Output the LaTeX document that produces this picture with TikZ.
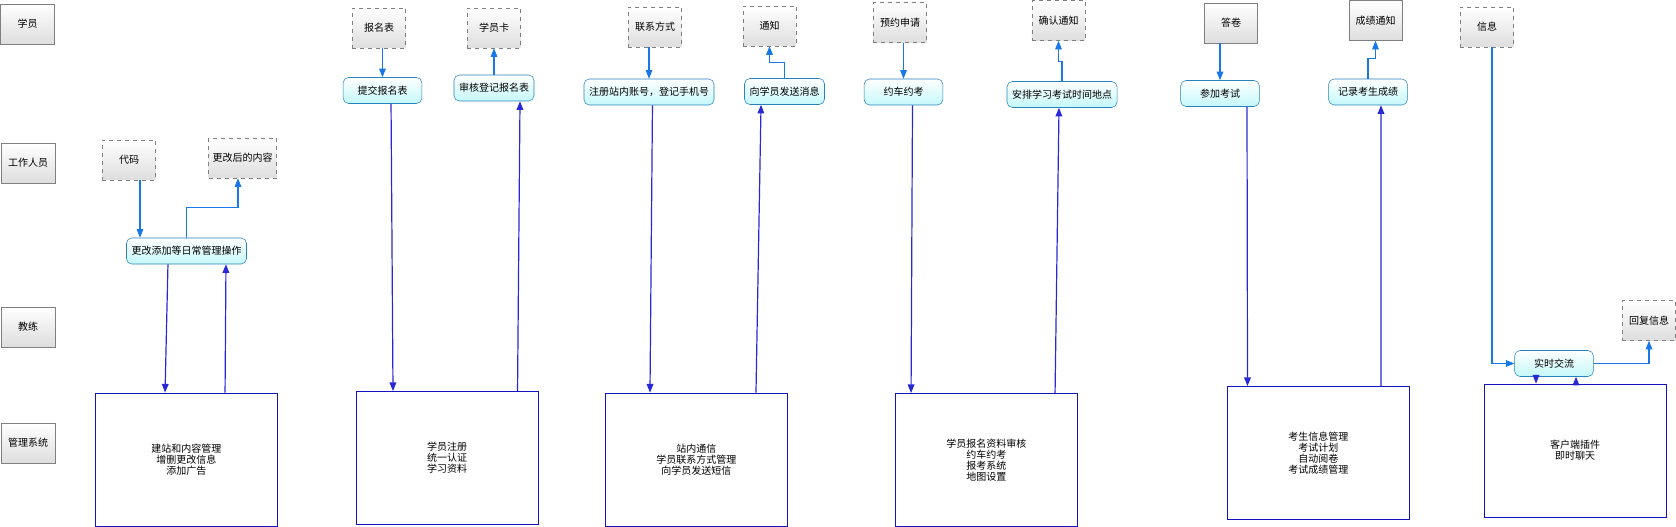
\documentclass[tikz,border=0pt]{standalone}
\usepackage{fontspec}
\setmainfont{Noto Sans CJK SC}
\usetikzlibrary{arrows.meta,positioning,shapes.geometric}

\definecolor{laneborder}{RGB}{128,128,128}
\definecolor{procborder}{RGB}{40,130,190}
\definecolor{procfill}{RGB}{196,248,250}
\definecolor{flowblue}{RGB}{24,120,232}
\definecolor{ctrlblue}{RGB}{40,40,215}
\definecolor{sysblue}{RGB}{20,20,190}

\tikzstyle{lane} = [rectangle, minimum width=40.5pt, minimum height=30pt,
                    draw=laneborder,
                    top color=white,
                    bottom color=black!13,
                    text centered]
\tikzstyle{datastore} = [rectangle, minimum width=40pt, minimum height=30pt,
                    inner xsep=3pt,
                    draw=laneborder, dashed,
                    top color=white,
                    bottom color=black!13,
                    text centered]
\tikzstyle{datasolid} = [datastore, solid]
\tikzstyle{process} = [rectangle, rounded corners=4pt,
                    minimum width=59pt, minimum height=19.5pt,
                    inner xsep=3.75pt,
                    draw=procborder,
                    top color=white,
                    bottom color=procfill,
                    text centered]
\tikzstyle{sysbox} = [rectangle, minimum width=136.5pt, minimum height=99.75pt,
                    draw=sysblue, semithick,
                    fill=white,
                    align=center,
                    font=\fontsize{7.5pt}{8.25pt}\selectfont]
\tikzstyle{dataflow} = [draw=flowblue, line width=0.8pt,
                    -{Triangle[length=6.5pt,width=5pt]}]
\tikzstyle{ctrlflow} = [draw=ctrlblue, line width=0.9pt,
                    -{Triangle[length=6.5pt,width=5pt]}]

\begin{document}
\begin{tikzpicture}[x=0.75pt, y=-0.75pt, font=\fontsize{7.5pt}{9pt}\selectfont]

  \useasboundingbox (0,0) rectangle (1676,527);

  % swimlanes
  \node (student) [lane] at (27.5,24) {学员};
  \node (staff) [lane] at (28,163) {工作人员};
  \node (coach) [lane] at (28,327) {教练};
  \node (system) [lane] at (28,443) {管理系统};

  % daily management
  \node (code) [datastore] at (129,160) {代码};
  \node (changed) [datastore] at (242.5,158) {更改后的内容};
  \node (change) [process] at (186.5,251) {更改添加等日常管理操作};
  \node (sys1) [sysbox] at (186.25,459.5) {
    建站和内容管理\\
    增删更改信息\\
    添加广告
  };

  \draw[dataflow] ([xshift=8.25pt]code.south) -- ([xshift=8.25pt]code.south |- change.north);
  \draw[dataflow] (change.north) -- ++(0,-30) -| ([xshift=-3.4pt]changed.south);
  \draw[ctrlflow] ([xshift=-13.9pt]change.south) -- ([xshift=-15.9pt]sys1.north);
  \draw[ctrlflow] ([xshift=29.1pt]sys1.north) -- ([xshift=29.6pt]change.south);

  % registration
  \node (signform) [datastore] at (379,28) {报名表};
  \node (card) [datastore] at (494,28) {学员卡};
  \node (submit) [process] at (382.5,90.5) {提交报名表};
  \node (audit) [process] at (494,88) {审核登记报名表};
  \node (sys2) [sysbox] at (447,458) {
    学员注册\\
    统一认证\\
    学习资料
  };

  \draw[dataflow] (signform.south -| submit.north) -- (submit.north);
  \draw[dataflow] (audit.north) -- (card.south);
  \draw[ctrlflow] ([xshift=6.4pt]submit.south) -- ([xshift=-40.5pt]sys2.north);
  \draw[ctrlflow] ([xshift=52.9pt]sys2.north) -- ([xshift=19.5pt]audit.south);

  % messages
  \node (contact) [datastore] at (655,27) {联系方式};
  \node (notice) [datastore] at (769.5,26) {通知};
  \node (register) [process] at (649,92) {注册站内账号，登记手机号};
  \node (sendmsg) [process] at (784.5,91.5) {向学员发送消息};
  \node (sys3) [sysbox] at (696.25,459.5) {
    站内通信\\
    学员联系方式管理\\
    向学员发送短信
  };

  \draw[dataflow] (contact.south -| register.north) -- (register.north);
  \draw[dataflow] (sendmsg.north) -- ++(0,-16) -| (notice.south);
  \draw[ctrlflow] ([xshift=2.6pt]register.south) -- ([xshift=-34.7pt]sys3.north);
  \draw[ctrlflow] ([xshift=44.8pt]sys3.north) -- ([xshift=-17.6pt]sendmsg.south);

  % booking
  \node (apply) [datastore] at (900,22.5) {预约申请};
  \node (confirm) [datastore] at (1058.5,20.5) {确认通知};
  \node (booking) [process] at (903.5,92) {约车约考};
  \node (arrange) [process] at (1062,94.5) {安排学习考试时间地点};
  \node (sys4) [sysbox] at (986.25,460) {
    学员报名资料审核\\
    约车约考\\
    报考系统\\
    地图设置
  };

  \draw[dataflow] (apply.south -| booking.north) -- (booking.north);
  \draw[dataflow] (arrange.north) -- ++(0,-20) -| (confirm.south);
  \draw[ctrlflow] ([xshift=6.75pt]booking.south) -- ([xshift=-56.4pt]sys4.north);
  \draw[ctrlflow] ([xshift=51.6pt]sys4.north) -- ([xshift=-2.25pt]arrange.south);

  % exam
  \node (answer) [datasolid] at (1231,23) {答卷};
  \node (score) [datasolid] at (1375.5,20.5) {成绩通知};
  \node (exam) [process] at (1220,93.5) {参加考试};
  \node (record) [process] at (1368,92) {记录考生成绩};
  \node (sys5) [sysbox] at (1318.3,453) {
    考生信息管理\\
    考试计划\\
    自动阅卷\\
    考试成绩管理
  };

  \draw[dataflow] (answer.south -| exam.north) -- (exam.north);
  \draw[dataflow] (record.north) -- ++(0,-20) -| (score.south);
  \draw[ctrlflow] ([xshift=20.25pt]exam.south) -- ([xshift=-53.1pt]sys5.north);
  \draw[ctrlflow] ([xshift=47pt]sys5.north) -- ([xshift=9.75pt]record.south);

  % chat
  \node (info) [datastore] at (1487,27) {信息};
  \node (reply) [datastore] at (1649,320.5) {回复信息};
  \node (chat) [process] at (1554,363.5) {实时交流};
  \node (sys6) [sysbox] at (1575,450.5) {
    客户端插件\\
    即时聊天
  };

  \draw[dataflow] ([xshift=3.75pt]info.south) |- (chat.west);
  \draw[dataflow] (chat.east) -| (reply.south);
  \draw[ctrlflow] ([xshift=-13.5pt]chat.south) -- ([xshift=-13.5pt]chat.south |- sys6.north);
  \draw[ctrlflow] ([xshift=16.5pt]chat.south |- sys6.north) -- ([xshift=16.5pt]chat.south);

\end{tikzpicture}
\end{document}
